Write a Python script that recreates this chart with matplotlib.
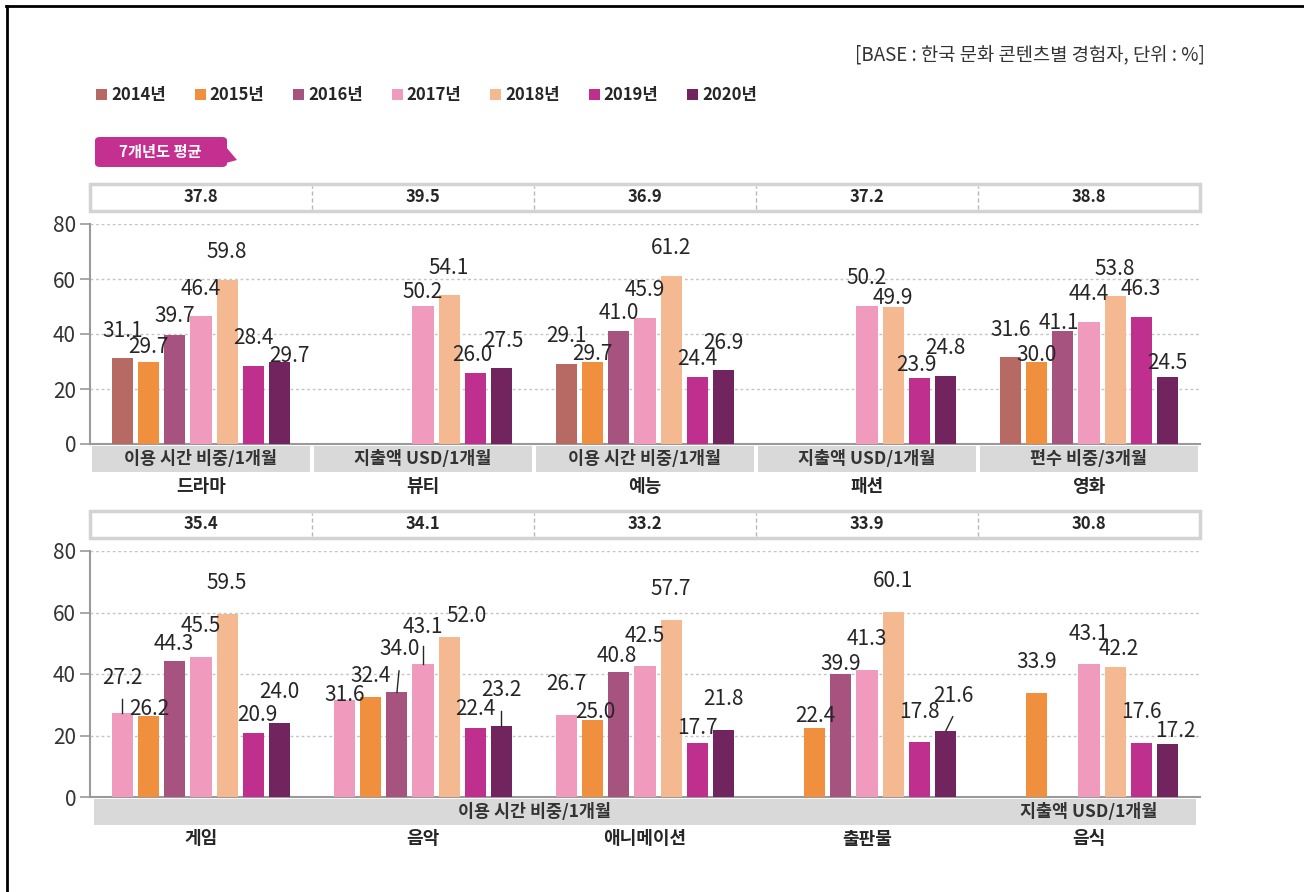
import numpy as np
import matplotlib
matplotlib.use('Agg')
import matplotlib.pyplot as plt
from matplotlib.patches import Rectangle, FancyBboxPatch, Polygon
from matplotlib.lines import Line2D

plt.rcParams['font.family'] = ['Noto Sans CJK KR', 'DejaVu Sans']

nan = np.nan

# ---------------- data ----------------
years = ['2014년', '2015년', '2016년', '2017년', '2018년', '2019년', '2020년']
year_colors = ['#b66a63', '#f0903f', '#a6537f', '#f09abd', '#f4b990', '#bf2f8e', '#72245f']

top_categories = ['드라마', '뷰티', '예능', '패션', '영화']
top_metrics = ['이용 시간 비중/1개월', '지출액 USD/1개월', '이용 시간 비중/1개월', '지출액 USD/1개월', '편수 비중/3개월']
top_averages = [37.8, 39.5, 36.9, 37.2, 38.8]
top_2014 = [31.1, nan, 29.1, nan, 31.6]
top_2015 = [29.7, nan, 29.7, nan, 30.0]
top_2016 = [39.7, nan, 41.0, nan, 41.1]
top_2017 = [46.4, 50.2, 45.9, 50.2, 44.4]
top_2018 = [59.8, 54.1, 61.2, 49.9, 53.8]
top_2019 = [28.4, 26.0, 24.4, 23.9, 46.3]
top_2020 = [29.7, 27.5, 26.9, 24.8, 24.5]

bottom_categories = ['게임', '음악', '애니메이션', '출판물', '음식']
bottom_metrics = ['이용 시간 비중/1개월', '지출액 USD/1개월']
bottom_metric_spans = [(0, 3), (4, 4)]
bottom_averages = [35.4, 34.1, 33.2, 33.9, 30.8]
bottom_2014 = [27.2, 31.6, 26.7, nan, nan]
bottom_2015 = [26.2, 32.4, 25.0, 22.4, 33.9]
bottom_2016 = [44.3, 34.0, 40.8, 39.9, nan]
bottom_2017 = [45.5, 43.1, 42.5, 41.3, 43.1]
bottom_2018 = [59.5, 52.0, 57.7, 60.1, 42.2]
bottom_2019 = [20.9, 22.4, 17.7, 17.8, 17.6]
bottom_2020 = [24.0, 23.2, 21.8, 21.6, 17.2]

top_series = [top_2014, top_2015, top_2016, top_2017, top_2018, top_2019, top_2020]
bottom_series = [bottom_2014, bottom_2015, bottom_2016, bottom_2017, bottom_2018, bottom_2019, bottom_2020]

# ---------------- style / label placement ----------------
PITCH = 0.1174
BW = 0.095
TXT = '#262626'
DEFAULT_DY = 10.0

# (category index, year index) -> (dx in bar pitches, dy in data units)
top_label_adjust = {
    (0, 1): (0, 5.5), (0, 2): (0, 6.7), (0, 6): (0.38, 2.2),
    (1, 3): (0, 5.2), (1, 5): (-0.1, 6.4), (1, 6): (0.1, 10.0),
    (2, 1): (0, 3.1), (2, 2): (0, 6.5), (2, 5): (0, 6.4),
    (3, 4): (0, 3.2), (3, 5): (-0.1, 4.8),
    (4, 1): (0, 2.3), (4, 2): (-0.15, 2.9), (4, 6): (0, 5.0),
}
bottom_label_adjust = {
    (0, 0): (0, 11.4), (0, 1): (0, 2.4), (0, 2): (-0.03, 5.4), (0, 5): (0.17, 5.8),
    (1, 0): (0, 1.6), (1, 1): (0, 6.8), (1, 2): (0.1, 14.1), (1, 3): (0, 12.2),
    (1, 4): (0.67, 6.8), (1, 5): (0, 6.2), (1, 6): (0, 11.6),
    (2, 1): (0.1, 2.7), (2, 2): (-0.1, 4.9), (2, 5): (0, 4.6),
    (3, 1): (0, 4.0), (3, 2): (0, 3.4), (3, 6): (0.3, 11.4),
    (4, 4): (0.15, 5.9), (4, 6): (0.32, 4.3),
}
# leader lines: (bottom dx, top dx, gap below label centre)
bottom_leaders = {
    (0, 0): (-0.05, -0.05, 6.7),
    (1, 2): (0.0, 0.08, 7.1),
    (1, 3): (0.0, 0.0, 6.1),
    (1, 6): (0.0, 0.0, 6.8),
    (3, 6): (0.03, 0.29, 6.9),
}

W, H = 1304, 892
fig = plt.figure(figsize=(W / 100, H / 100), dpi=100)


def add_ax(top_px, bottom_px):
    ax = fig.add_axes([90 / W, 1 - bottom_px / H, 1110 / W, (bottom_px - top_px) / H])
    return ax, (bottom_px - top_px) / 80.0


def draw_panel(ax, unit, categories, series, averages, band_specs, segmented,
               color_override, label_adjust, leaders):
    x = np.arange(len(categories))
    ax.set_xlim(-0.5, 4.5)
    ax.set_ylim(0, 80)
    for i, vals in enumerate(series):
        c = color_override.get(i, year_colors[i])
        ax.bar(x + (i - 3) * PITCH, vals, width=BW, color=c, zorder=3)
        for k, v in enumerate(vals):
            if np.isnan(v):
                continue
            dx, dy = label_adjust.get((k, i), (0, DEFAULT_DY))
            xc = k + (i - 3) * PITCH
            ax.text(xc + dx * PITCH, v + dy, f'{v:.1f}', ha='center', va='center',
                    fontsize=15, color=TXT, zorder=6)
            if (k, i) in leaders:
                bdx, tdx, gap = leaders[(k, i)]
                ax.plot([xc + bdx * PITCH, xc + tdx * PITCH], [v, v + dy - gap],
                        color=TXT, lw=1, zorder=6)

    ax.set_yticks([0, 20, 40, 60, 80])
    ax.set_xticks([])
    ax.yaxis.grid(True, linestyle=(0, (2, 2)), color='#c4c4c4', lw=1)
    ax.set_axisbelow(True)
    for s in ['top', 'right']:
        ax.spines[s].set_visible(False)
    for s in ['left', 'bottom']:
        ax.spines[s].set_color('#9a9a9a')
        ax.spines[s].set_linewidth(1.5)
    ax.tick_params(axis='y', length=7, width=1.2, color='#9a9a9a', labelsize=15,
                   labelcolor='#333333', pad=3)

    # header box with 7-year averages
    y0 = 80 + 13 / unit
    y1 = 80 + 40 / unit
    ax.add_patch(Rectangle((-0.5, y0), 5, y1 - y0, facecolor='white', edgecolor='#d3d3d3',
                           lw=2.5, clip_on=False, zorder=2))
    for k in range(1, 5):
        ax.plot([k - 0.5, k - 0.5], [y0 + 2 / unit, y1 - 2 / unit], ls=(0, (3, 2)),
                color='#b8b8b8', lw=1, clip_on=False, zorder=3)
    for k, a in enumerate(averages):
        ax.text(k, (y0 + y1) / 2, f'{a:.1f}', ha='center', va='center', fontsize=12,
                fontweight='bold', color=TXT)

    # grey metric band
    b0 = -1.5 / unit
    b1 = -28 / unit
    if segmented:
        for k, txt in enumerate(band_specs):
            ax.add_patch(Rectangle((k - 0.5 + 0.007, b1), 0.986, b0 - b1, facecolor='#d9d9d9',
                                   edgecolor='none', clip_on=False, zorder=2))
            ax.text(k, (b0 + b1) / 2, txt, ha='center', va='center', fontsize=12.5,
                    fontweight='bold', color='#333333')
    else:
        ax.add_patch(Rectangle((-0.5 + 0.02, b1), 4.96, b0 - b1, facecolor='#d9d9d9',
                               edgecolor='none', clip_on=False, zorder=2))
        for (s, e), txt in band_specs:
            ax.text((s + e) / 2, (b0 + b1) / 2, txt, ha='center', va='center', fontsize=12.5,
                    fontweight='bold', color='#333333')

    for k, c in enumerate(categories):
        ax.text(k, -42 / unit, c, ha='center', va='center', fontsize=13, fontweight='bold',
                color=TXT)


ax1, u1 = add_ax(224, 444)
ax2, u2 = add_ax(551, 797)

draw_panel(ax1, u1, top_categories, top_series, top_averages, top_metrics, True,
           {}, top_label_adjust, {})
draw_panel(ax2, u2, bottom_categories, bottom_series, bottom_averages,
           list(zip(bottom_metric_spans, bottom_metrics)), False,
           {0: year_colors[3]}, bottom_label_adjust, bottom_leaders)

# ---------------- legend ----------------
for i, (yr, col) in enumerate(zip(years, year_colors)):
    x0 = 96 + i * 98.5
    fig.add_artist(Rectangle((x0 / W, 1 - 100 / H), 11 / W, 11 / H, transform=fig.transFigure,
                             facecolor=col, edgecolor='none'))
    fig.text((x0 + 15) / W, 1 - 95 / H, yr, ha='left', va='center', fontsize=12,
             fontweight='bold', color=TXT)

# ---------------- tag "7개년도 평균" ----------------
tag_col = '#c4308f'
fig.add_artist(FancyBboxPatch((95 / W, 1 - 167 / H), 132 / W, 30 / H,
                              boxstyle='round,pad=0,rounding_size=0.004',
                              transform=fig.transFigure, facecolor=tag_col, edgecolor='none'))
fig.add_artist(Polygon([(226 / W, 1 - 147 / H), (237 / W, 1 - 160 / H), (226 / W, 1 - 163 / H)],
                       closed=True, transform=fig.transFigure, facecolor=tag_col,
                       edgecolor='none'))
fig.text(160 / W, 1 - 152 / H, '7개년도 평균', ha='center', va='center', fontsize=11,
         fontweight='bold', color='white')

# ---------------- base note ----------------
fig.text(1205 / W, 1 - 55 / H, '[BASE : 한국 문화 콘텐츠별 경험자, 단위 : %]', ha='right',
         va='center', fontsize=13.5, color='#333333')

# ---------------- frame ----------------
fig.add_artist(Line2D([7 / W, 7 / W], [0, 1 - 6 / H], transform=fig.transFigure, color='black',
                      lw=2))
fig.add_artist(Line2D([6 / W, 1], [1 - 6 / H, 1 - 6 / H], transform=fig.transFigure,
                      color='black', lw=2))

fig.savefig('out.png', dpi=100, facecolor='white')
